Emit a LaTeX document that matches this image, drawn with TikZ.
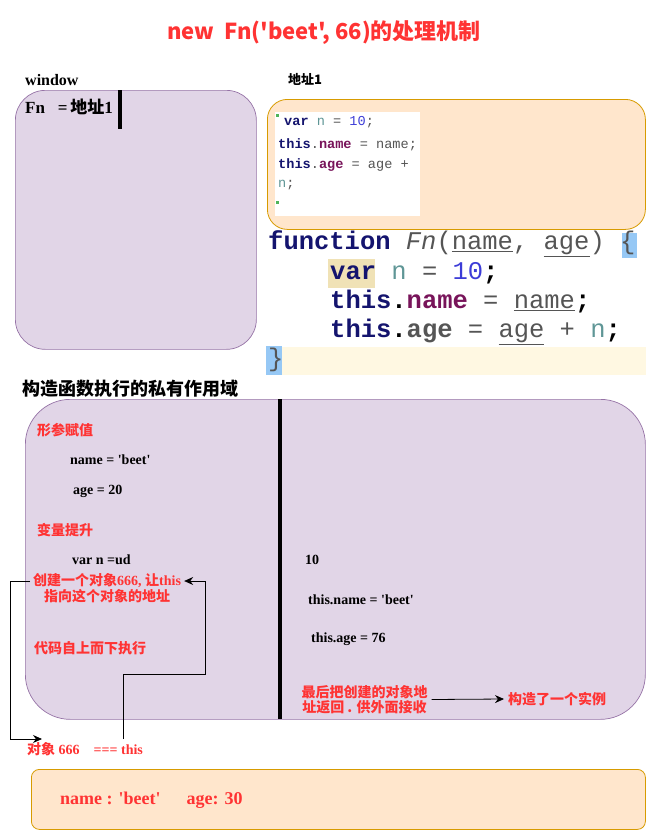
\documentclass[tikz,border=0pt]{standalone}
\usepackage{fontspec}
\setmainfont{Liberation Serif}
\setmonofont{Liberation Mono}
\newfontfamily\cjk{Noto Sans CJK SC}
\usepackage{tikz}
\usetikzlibrary{arrows,arrows.meta,shapes,positioning,calc}
\usepackage{xcolor}
\definecolor{dfred}{RGB}{255,51,51}
\definecolor{dfpurple}{RGB}{150,115,166}
\definecolor{dfpurplefill}{RGB}{225,213,231}
\definecolor{dforange}{RGB}{215,155,0}
\definecolor{dforangefill}{RGB}{255,230,204}
\definecolor{codenavy}{RGB}{20,20,110}
\definecolor{codepurple}{RGB}{120,20,90}
\definecolor{codeteal}{RGB}{95,150,150}
\definecolor{codeblue}{RGB}{60,60,215}
\definecolor{codegray}{RGB}{85,85,85}
\definecolor{codegreen}{RGB}{80,180,90}
\definecolor{hlblue}{RGB}{150,200,245}
\definecolor{hltan}{RGB}{240,226,182}
\definecolor{hlyellow}{RGB}{255,248,226}
\newcommand{\sq}{\textquotesingle}
\tikzstyle{arrow} = [-{Stealth[length=9pt,width=8pt]},black,line width=0.8pt]
\tikzstyle{divider} = [line width=3.5pt,black]
\tikzstyle{titletext} = [text=dfred, font=\cjk\bfseries\fontsize{22}{26}\selectfont]
\tikzstyle{lbl} = [anchor=west, inner sep=0pt, yshift=-2.5pt, text height=1.5ex, text depth=.3ex, font=\bfseries\fontsize{14}{16}\selectfont]
\tikzstyle{redlbl} = [anchor=west, inner sep=0pt, text=dfred, font=\cjk\bfseries\fontsize{14}{16}\selectfont]
\tikzstyle{winbox} = [rectangle, rounded corners=30pt, draw=dfpurple, fill=dfpurplefill, line width=0.7pt]
\tikzstyle{scopebox} = [rectangle, rounded corners=45pt, draw=dfpurple, fill=dfpurplefill, line width=0.7pt]
\tikzstyle{heapbox} = [rectangle, rounded corners=20pt, draw=dforange, fill=dforangefill, line width=0.8pt]
\tikzstyle{smallcode} = [anchor=west, inner sep=0pt, text=codegray, font=\ttfamily\fontsize{13.6}{15}\selectfont]
\tikzstyle{bigcode} = [anchor=west, inner sep=0pt, text=codegray, font=\ttfamily\fontsize{25.5}{28}\selectfont]
\tikzstyle{hl} = [rectangle, inner sep=0pt, anchor=north west]

\begin{document}
\begin{tikzpicture}[x=1pt,y=-1pt]
\useasboundingbox (0,0) rectangle (646,830);

% Title
\node[titletext] (title) at (324,33) {new\ \ Fn('beet', 66)的处理机制};

% Window (global scope)
\node[lbl, font=\bfseries\fontsize{16}{18}\selectfont] (winlabel) at (25,80) {window};
\node[winbox, anchor=north west, minimum width=241pt, minimum height=259pt] (win) at (15,90) {};
\node[lbl, font=\bfseries\fontsize{17}{19}\selectfont] (fnref) at (25,108) {Fn\ \ \ =\,{\cjk 地址}1};
\draw[divider] (120,90) -- (120,129);

% Heap: address 1
\node[anchor=west, inner sep=0pt, font=\cjk\bfseries\fontsize{13}{15}\selectfont] (addrlabel) at (288,79) {地址1};
\node[heapbox, anchor=north west, minimum width=378pt, minimum height=130pt] (heap) at (267,99) {};
\node[hl, fill=white, minimum width=145pt, minimum height=104pt] (shot) at (275,112) {};
\fill[codegreen] (276,114) rectangle (278.5,116.5);
\fill[codegreen] (276,201) rectangle (278.5,203.5);
\node[smallcode] (sc1) at (284,122) {\textbf{\color{codenavy}var} {\color{codeteal}n} = {\color{codeblue}10};};
\node[smallcode] (sc2) at (278,145) {\textbf{\color{codenavy}this}.\textbf{\color{codepurple}name} = name;};
\node[smallcode] (sc3) at (278,165) {\textbf{\color{codenavy}this}.\textbf{\color{codepurple}age} = age +};
\node[smallcode] (sc4) at (278,185) {{\color{codeteal}n};};

% Function source
\node[hl, fill=hlblue, minimum width=15pt, minimum height=25pt] (hlopen) at (622,233) {};
\node[hl, fill=hltan, minimum width=47pt, minimum height=29pt] (hlvar) at (328,259) {};
\node[hl, fill=hlyellow, minimum width=364pt, minimum height=28pt] (hlline) at (282,347) {};
\node[hl, fill=hlblue, minimum width=16pt, minimum height=29pt] (hlclose) at (266,346) {};
\node[bigcode] (code1) at (268,244) {\textbf{\color{codenavy}function} {\itshape Fn}(\underline{name}, \underline{age}) \{};
\node[bigcode] (code2) at (330,273) {\textbf{\color{codenavy}var} {\color{codeteal}n} = {\color{codeblue}10}{\color{black}\textbf{;}}};
\node[bigcode] (code3) at (330,302) {\textbf{\color{codenavy}this}{\color{black}\textbf{.}}\textbf{\color{codepurple}name} = \underline{name}{\color{black}\textbf{;}}};
\node[bigcode] (code4) at (330,332) {\textbf{\color{codenavy}this}{\color{black}\textbf{.}}\textbf{age} = \underline{age} + {\color{codeteal}n}{\color{black}\textbf{;}}};
\node[bigcode] (code5) at (268,360) {\}};

% Private scope of the constructor
\node[anchor=west, inner sep=0pt, font=\cjk\bfseries\fontsize{18}{20}\selectfont] (scopelabel) at (22,389) {构造函数执行的私有作用域};
\node[scopebox, anchor=north west, minimum width=620pt, minimum height=320pt] (scope) at (25,399) {};
\draw[divider] (280,399) -- (280,719);

% Left half
\node[redlbl] (params) at (37,430) {形参赋值};
\node[lbl] (pname) at (70,459) {name = \sq beet\sq};
\node[lbl] (page) at (73,489) {age = 20};
\node[redlbl] (hoist) at (37,530) {变量提升};
\node[lbl] (varn) at (72,559) {var n =ud};
\node[redlbl, inner sep=3pt] (create) at (30,581) {创建一个对象{\rmfamily 666, }让{\rmfamily this}};
\node[redlbl, anchor=north, below=-2pt of create] (create2) {指向这个对象的地址};
\node[redlbl] (topdown) at (34,648) {代码自上而下执行};

% Right half
\node[lbl] (ten) at (305,559) {10};
\node[lbl] (setname) at (308,599) {this.name = \sq beet\sq};
\node[lbl] (setage) at (311,637) {this.age = 76};
\node[redlbl, anchor=center, align=center, inner sep=4pt, font=\cjk\bfseries\fontsize{14}{15}\selectfont] (ret) at (364.5,699.5) {最后把创建的对象地\\址返回 . 供外面接收};
\node[redlbl, inner sep=4pt] (inst) at (504,699) {构造了一个实例};

% Object 666
\node[redlbl, font=\bfseries\fontsize{14}{16}\selectfont] (obj) at (27,749) {{\cjk 对象} 666\ \ \ \ === this};
\coordinate (objin) at (42,739);
\coordinate (objthis) at (123.5,739);
\coordinate (bend) at (205,674);
\node[heapbox, rounded corners=8pt, anchor=north west, minimum width=614pt, minimum height=60pt] (instbox) at (31,769) {};
\node[lbl, text=dfred, font=\bfseries\fontsize{18}{20}\selectfont] (fields) at (60,799) {name : \sq beet\sq\hspace{26pt}age: 30};

% Arrows
\draw[arrow] (create.west) -- ++(-20,0) |- (objin);
\draw[arrow] (objthis) |- (bend) |- (create.east);
\draw[arrow] (ret.east) -- (inst.west);
\end{tikzpicture}
\end{document}
